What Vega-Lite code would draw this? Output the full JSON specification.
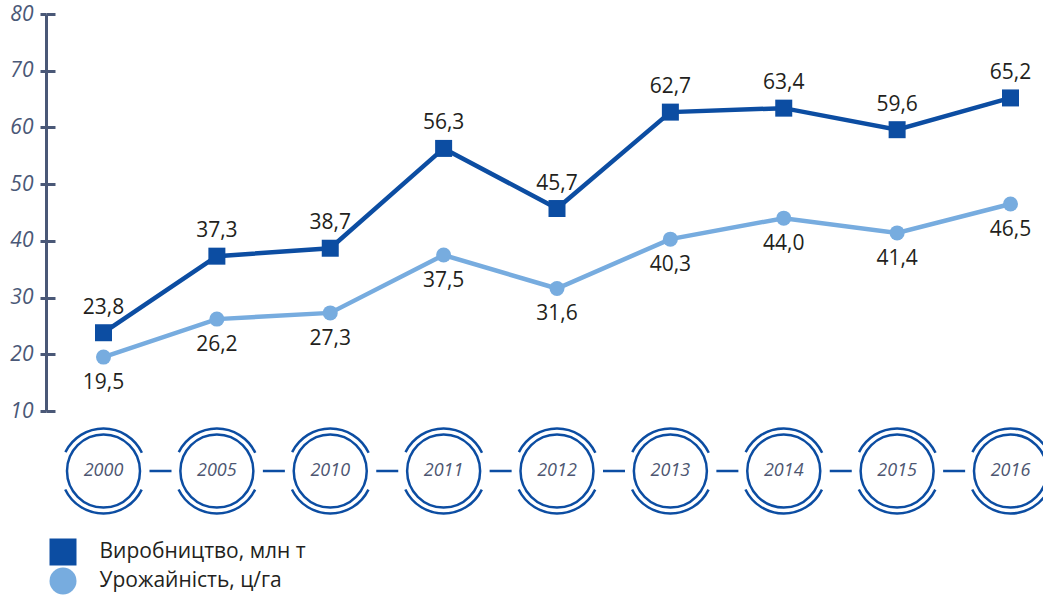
{
  "$schema": "https://vega.github.io/schema/vega-lite/v6.json",
  "background": "white",
  "padding": {"left": 9, "top": 3, "right": 0, "bottom": 0},
  "spacing": 0,
  "bounds": "flush",
  "resolve": {"legend": {"color": "independent", "shape": "independent"}},
  "config": {
    "view": {"stroke": null},
    "font": "Open Sans",
    "locale": {"number": {"decimal": ",", "thousands": " ", "grouping": [3], "currency": ["", ""]}}
  },
  "datasets": {
    "main": [
      {"year": "2000", "series": "Виробництво, млн т", "value": 23.8},
      {"year": "2005", "series": "Виробництво, млн т", "value": 37.3},
      {"year": "2010", "series": "Виробництво, млн т", "value": 38.7},
      {"year": "2011", "series": "Виробництво, млн т", "value": 56.3},
      {"year": "2012", "series": "Виробництво, млн т", "value": 45.7},
      {"year": "2013", "series": "Виробництво, млн т", "value": 62.7},
      {"year": "2014", "series": "Виробництво, млн т", "value": 63.4},
      {"year": "2015", "series": "Виробництво, млн т", "value": 59.6},
      {"year": "2016", "series": "Виробництво, млн т", "value": 65.2},
      {"year": "2000", "series": "Урожайність, ц/га", "value": 19.5},
      {"year": "2005", "series": "Урожайність, ц/га", "value": 26.2},
      {"year": "2010", "series": "Урожайність, ц/га", "value": 27.3},
      {"year": "2011", "series": "Урожайність, ц/га", "value": 37.5},
      {"year": "2012", "series": "Урожайність, ц/га", "value": 31.6},
      {"year": "2013", "series": "Урожайність, ц/га", "value": 40.3},
      {"year": "2014", "series": "Урожайність, ц/га", "value": 44.0},
      {"year": "2015", "series": "Урожайність, ц/га", "value": 41.4},
      {"year": "2016", "series": "Урожайність, ц/га", "value": 46.5}
    ],
    "years": [
      {"year": "2000"}, {"year": "2005"}, {"year": "2010"}, {"year": "2011"}, {"year": "2012"},
      {"year": "2013"}, {"year": "2014"}, {"year": "2015"}, {"year": "2016"}
    ]
  },
  "vconcat": [
    {
      "width": 997,
      "height": 397,
      "data": {"name": "main"},
      "encoding": {
        "x": {"field": "year", "type": "ordinal", "scale": {"type": "point", "padding": 0.39691, "align": 0.63889}, "axis": null},
        "y": {
          "field": "value", "type": "quantitative",
          "scale": {"domain": [10, 80], "nice": false, "zero": false},
          "axis": {
            "values": [10, 20, 30, 40, 50, 60, 70, 80], "title": null,
            "domainColor": "#4a5877", "domainWidth": 3, "domainCap": "butt",
            "tickColor": "#4a5877", "tickWidth": 3, "tickSize": 6,
            "labelFont": "Open Sans", "labelFontStyle": "italic", "labelFontSize": 21,
            "labelColor": "#4a5877", "labelPadding": 7,
            "grid": true, "gridColor": "#4a5877", "gridWidth": 3, "gridDash": [9, 3000], "gridOpacity": 1
          }
        }
      },
      "layer": [
        {
          "transform": [{"filter": "datum.series === 'Виробництво, млн т'"}],
          "mark": {"type": "line", "strokeWidth": 4.5, "color": "#0c4da2"}
        },
        {
          "transform": [{"filter": "datum.series === 'Урожайність, ц/га'"}],
          "mark": {"type": "line", "strokeWidth": 4.5, "color": "#77acdf"}
        },
        {
          "mark": {"type": "point", "filled": true, "opacity": 1},
          "encoding": {
            "color": {"field": "series", "type": "nominal",
              "scale": {"domain": ["Виробництво, млн т", "Урожайність, ц/га"], "range": ["#0c4da2", "#77acdf"]},
              "legend": {
                "orient": "none", "legendX": 3.5, "legendY": 524.5, "title": null, "padding": 0,
                "direction": "vertical",
                "symbolSize": 729, "symbolStrokeWidth": 0, "symbolOpacity": 1,
                "labelFont": "Open Sans", "labelFontSize": 21, "labelColor": "#231f20",
                "labelOffset": 23, "rowPadding": 2, "labelLimit": 400
              }},
            "shape": {"field": "series", "type": "nominal",
              "scale": {"domain": ["Виробництво, млн т", "Урожайність, ц/га"], "range": ["square", "circle"]},
              "legend": {
                "orient": "none", "legendX": 3.5, "legendY": 524.5, "title": null, "padding": 0,
                "direction": "vertical",
                "symbolSize": 729, "symbolStrokeWidth": 0, "symbolOpacity": 1,
                "labelFont": "Open Sans", "labelFontSize": 21, "labelColor": "#231f20",
                "labelOffset": 23, "rowPadding": 2, "labelLimit": 400
              }},
            "size": {"field": "series", "type": "nominal",
              "scale": {"domain": ["Виробництво, млн т", "Урожайність, ц/га"], "range": [289, 225]}, "legend": null}
          }
        },
        {
          "transform": [{"filter": "datum.series === 'Виробництво, млн т'"}],
          "mark": {"type": "text", "fontSize": 21, "color": "#231f20", "dy": -25, "font": "Open Sans"},
          "encoding": {"text": {"field": "value", "type": "quantitative", "format": ".1f"}}
        },
        {
          "transform": [{"filter": "datum.series === 'Урожайність, ц/га'"}],
          "mark": {"type": "text", "fontSize": 21, "color": "#231f20", "dy": 26, "font": "Open Sans"},
          "encoding": {"text": {"field": "value", "type": "quantitative", "format": ".1f"}}
        }
      ]
    },
    {
      "width": 997,
      "height": 120,
      "data": {"name": "years"},
      "encoding": {
        "x": {"field": "year", "type": "ordinal", "scale": {"type": "point", "padding": 0.39691, "align": 0.63889}, "axis": null}
      },
      "layer": [
        {
          "mark": {"type": "line", "color": "#0c4da2", "strokeWidth": 2.5, "strokeDash": [0, 46, 22, 45.375]}
        },
        {
          "mark": {"type": "point", "shape": "circle", "filled": false, "opacity": 1, "size": 7225,
            "stroke": "#0c4da2", "strokeWidth": 2.5, "strokeDash": [0, 19.29, 94.95, 38.57, 94.95, 19.29]}
        },
        {
          "mark": {"type": "point", "shape": "circle", "filled": false, "opacity": 1, "size": 5329,
            "stroke": "#0c4da2", "strokeWidth": 2.5}
        },
        {
          "mark": {"type": "text", "fontSize": 18, "fontStyle": "italic", "color": "#4d5671", "font": "Open Sans"},
          "encoding": {"text": {"field": "year", "type": "nominal"}}
        }
      ]
    }
  ]
}
